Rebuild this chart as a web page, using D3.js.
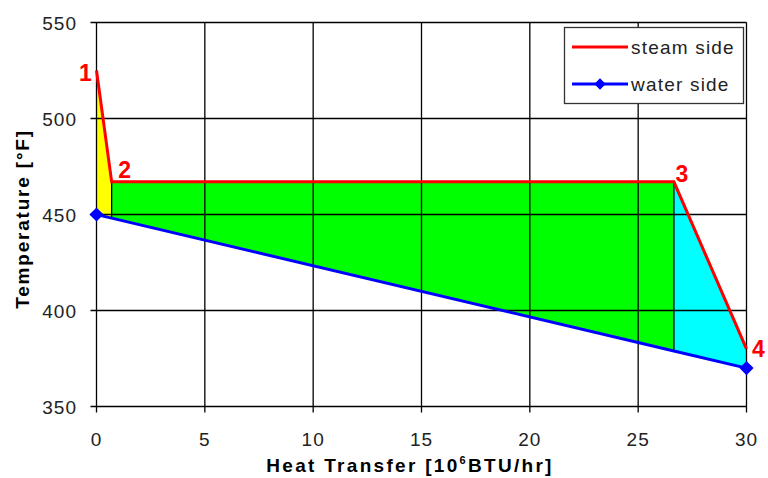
<!DOCTYPE html>
<html>
<head>
<meta charset="utf-8">
<script src="https://cdn.jsdelivr.net/npm/d3@7"></script>
<style>
  body { margin: 0; background: #fff; }
  text { font-family: "Liberation Sans", Arial, sans-serif; }
</style>
</head>
<body>
<script>
// steam side (hot) and water side (cold) temperature profiles
var steamQ = [0, 0.7, 26.65, 30];
var steamT = [525, 467, 467, 380];
var waterQ = [0, 0.7, 26.65, 30];
var waterT = [450, 448.1, 378.9, 370];
var pointLabels = ["1", "2", "3", "4"];
var zoneColors = ["#ffff00", "#00ff00", "#00ffff"];
var xTicks = [0, 5, 10, 15, 20, 25, 30];
var yTicks = [350, 400, 450, 500, 550];
var legendNames = ["steam side", "water side"];

var W = 768, H = 478;
var x = d3.scaleLinear().domain([0, 30]).range([96.5, 746.5]);
var y = d3.scaleLinear().domain([350, 550]).range([406.5, 22.5]);

var svg = d3.select("body").append("svg")
    .attr("width", W)
    .attr("height", H);

// coloured zones between the two curves
for (var i = 0; i < 3; i++) {
    var poly = [
        [steamQ[i], steamT[i]], [steamQ[i + 1], steamT[i + 1]],
        [waterQ[i + 1], waterT[i + 1]], [waterQ[i], waterT[i]]
    ];
    svg.append("path")
        .attr("d", "M" + poly.map(function(p) { return x(p[0]) + "," + y(p[1]); }).join("L") + "Z")
        .attr("fill", zoneColors[i]);
}

// grid
svg.append("g").selectAll("line").data(xTicks).enter().append("line")
    .attr("x1", function(d) { return x(d); }).attr("x2", function(d) { return x(d); })
    .attr("y1", y(550)).attr("y2", y(350) + 6)
    .attr("stroke", "#000").attr("stroke-width", 1.3);
svg.append("g").selectAll("line").data(yTicks).enter().append("line")
    .attr("x1", x(0) - 6).attr("x2", x(30))
    .attr("y1", function(d) { return y(d); }).attr("y2", function(d) { return y(d); })
    .attr("stroke", "#000").attr("stroke-width", 1.3);

// vertical dividers at points 2 and 3
[1, 2].forEach(function(i) {
    svg.append("line")
        .attr("x1", x(steamQ[i])).attr("x2", x(waterQ[i]))
        .attr("y1", y(steamT[i])).attr("y2", y(waterT[i]))
        .attr("stroke", "#000").attr("stroke-width", 1.3);
});

// tick labels
svg.append("g").selectAll("text").data(xTicks).enter().append("text")
    .attr("x", function(d) { return x(d); })
    .attr("y", 446)
    .attr("text-anchor", "middle")
    .attr("font-size", 19).attr("letter-spacing", 1)
    .attr("fill", "#222")
    .text(function(d) { return d; });
svg.append("g").selectAll("text").data(yTicks).enter().append("text")
    .attr("x", 77)
    .attr("y", function(d) { return y(d) + 7; })
    .attr("text-anchor", "end")
    .attr("font-size", 19).attr("letter-spacing", 1)
    .attr("fill", "#222")
    .text(function(d) { return d; });

// axis titles
var xt = svg.append("text")
    .attr("x", 410).attr("y", 472)
    .attr("text-anchor", "middle")
    .attr("font-size", 19).attr("font-weight", "bold").attr("letter-spacing", 2.3)
    .text("Heat Transfer [10");
xt.append("tspan").attr("font-size", 11).attr("dy", -8).text("6");
xt.append("tspan").attr("dy", 8).text("BTU/hr]");

svg.append("text")
    .attr("transform", "translate(29,219) rotate(-90)")
    .attr("text-anchor", "middle")
    .attr("font-size", 19).attr("font-weight", "bold").attr("letter-spacing", 1.8)
    .text("Temperature [°F]");

// curves
var line = d3.line().x(function(d) { return x(d[0]); }).y(function(d) { return y(d[1]); });
svg.append("path")
    .attr("d", line(d3.zip(waterQ, waterT)))
    .attr("fill", "none").attr("stroke", "#0000ff").attr("stroke-width", 3);
svg.append("path")
    .attr("d", line(d3.zip(steamQ, steamT)))
    .attr("fill", "none").attr("stroke", "#ff0000").attr("stroke-width", 3);

var marker = d3.symbol().type(d3.symbolSquare).size(100);
[0, waterQ.length - 1].forEach(function(i) {
    svg.append("path")
        .attr("d", marker())
        .attr("transform", "translate(" + x(waterQ[i]) + "," + y(waterT[i]) + ") rotate(45)")
        .attr("fill", "#0000ff");
});

// point numbers
var labelOffsets = [[-11, 10], [13, -4], [8, 0], [12, 8]];
svg.append("g").selectAll("text").data(pointLabels).enter().append("text")
    .attr("x", function(d, i) { return x(steamQ[i]) + labelOffsets[i][0]; })
    .attr("y", function(d, i) { return y(steamT[i]) + labelOffsets[i][1]; })
    .attr("text-anchor", "middle")
    .attr("font-size", 23).attr("font-weight", "bold")
    .attr("fill", "#ff0000")
    .text(function(d) { return d; });

// legend
var lg = svg.append("g").attr("transform", "translate(564,27)");
lg.append("rect")
    .attr("x", 0.5).attr("y", 0.5).attr("width", 179).attr("height", 76)
    .attr("fill", "#fff").attr("stroke", "#333").attr("stroke-width", 1.3);
var legendColors = ["#ff0000", "#0000ff"];
legendNames.forEach(function(name, i) {
    var ly = 20 + i * 37;
    lg.append("line")
        .attr("x1", 8).attr("x2", 64).attr("y1", ly).attr("y2", ly)
        .attr("stroke", legendColors[i]).attr("stroke-width", 3);
    if (i == 1) {
        lg.append("path").attr("d", marker())
            .attr("transform", "translate(36," + ly + ") rotate(45) scale(0.8)")
            .attr("fill", "#0000ff");
    }
    lg.append("text")
        .attr("x", 67).attr("y", ly + 7)
        .attr("font-size", 19).attr("letter-spacing", 1.2).attr("fill", "#222")
        .text(name);
});
</script>
</body>
</html>
